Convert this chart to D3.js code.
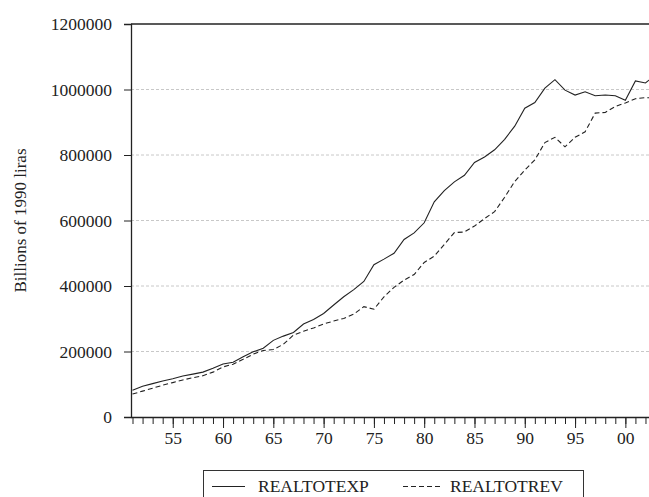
<!DOCTYPE html>
<html>
<head>
<meta charset="utf-8">
<script src="https://cdn.jsdelivr.net/npm/d3@7"></script>
<style>
  html, body { margin: 0; padding: 0; background: #fff; }
  svg { display: block; }
  text { font-family: "Liberation Serif", "Times New Roman", serif; fill: #222; }
</style>
</head>
<body>
<svg id="chart" width="649" height="497"></svg>
<script>
const years = d3.range(1951, 2004);
const realtotexp = [
  82000, 94000, 102000, 110000, 117000, 125000, 131000, 137000, 149000, 162000,
  167000, 184000, 199000, 210000, 234000, 247000, 258000, 284000, 298000, 316000,
  342000, 367000, 389000, 414000, 465000, 482000, 500000, 542000, 562000, 593000,
  657000, 691000, 718000, 738000, 777000, 794000, 816000, 848000, 888000, 943000,
  960000, 1004000, 1030000, 998000, 983000, 993000, 981000, 983000, 981000, 967000,
  1026000, 1020000, 1045000
];
const realtotrev = [
  70000, 79000, 88000, 97000, 105000, 113000, 120000, 126000, 137000, 153000,
  161000, 176000, 192000, 203000, 206000, 222000, 250000, 262000, 272000, 284000,
  293000, 301000, 314000, 337000, 329000, 367000, 396000, 418000, 435000, 472000,
  491000, 527000, 563000, 565000, 583000, 606000, 627000, 671000, 719000, 754000,
  785000, 838000, 854000, 825000, 854000, 871000, 928000, 930000, 948000, 959000,
  972000, 975000, 975000
];
const yTicks = [0, 200000, 400000, 600000, 800000, 1000000, 1200000];
const xMajorTicks = [1955, 1960, 1965, 1970, 1975, 1980, 1985, 1990, 1995, 2000];
const seriesNames = ["REALTOTEXP", "REALTOTREV"];

(function () {
const svg = d3.select("#chart");
const pL = 131, pR = 649, pT = 24, pB = 417;

const x = d3.scaleLinear().domain([1950.85, 2002.35]).range([pL, pR]);
const y = d3.scaleLinear().domain([0, 1200000]).range([pB, pT]);

svg.append("clipPath").attr("id", "clip")
  .append("rect").attr("x", pL).attr("y", pT - 2).attr("width", pR - pL).attr("height", pB - pT + 4);

// gridlines
svg.append("g").selectAll("line")
  .data(yTicks.filter(d => d > 0 && d < 1200000))
  .join("line")
  .attr("x1", pL).attr("x2", pR)
  .attr("y1", d => y(d)).attr("y2", d => y(d))
  .attr("stroke", "#c8c8c8").attr("stroke-width", 1).attr("stroke-dasharray", "3,2");

// top border
svg.append("line").attr("x1", pL).attr("x2", pR).attr("y1", y(1200000)).attr("y2", y(1200000))
  .attr("stroke", "#222").attr("stroke-width", 1.3);

// y axis
const yAxis = d3.axisLeft(y).tickValues(yTicks).tickFormat(d3.format("d")).tickSize(7).tickPadding(12);
const gy = svg.append("g").attr("transform", `translate(${pL},0)`).call(yAxis);
gy.select(".domain").attr("stroke", "#222").attr("stroke-width", 1.3);
gy.selectAll(".tick line").attr("stroke", "#222");
gy.selectAll(".tick text").attr("font-size", "17.5px").attr("font-family", "Liberation Serif").attr("fill", "#222");

// x axis minor ticks
const gxMinor = svg.append("g").attr("transform", `translate(0,${pB})`)
  .call(d3.axisBottom(x).tickValues(d3.range(1951, 2003)).tickSize(7).tickFormat(""));
gxMinor.select(".domain").remove();
gxMinor.selectAll(".tick line").attr("stroke", "#222");

const xAxis = d3.axisBottom(x).tickValues(xMajorTicks)
  .tickFormat(d => String(d % 100).padStart(2, "0")).tickSize(11).tickPadding(4).tickSizeOuter(0);
const gx = svg.append("g").attr("transform", `translate(0,${pB})`).call(xAxis);
gx.select(".domain").attr("stroke", "#222").attr("stroke-width", 1.3);
gx.selectAll(".tick line").attr("stroke", "#222");
gx.selectAll(".tick text").attr("font-size", "17.5px").attr("font-family", "Liberation Serif").attr("fill", "#222");

// y title
svg.append("text")
  .attr("transform", `translate(26,${(pT + pB) / 2}) rotate(-90)`)
  .attr("text-anchor", "middle")
  .attr("font-size", "17px")
  .text("Billions of 1990 liras");

// lines
const line = d3.line().x(d => x(d[0])).y(d => y(d[1]));
const plot = svg.append("g").attr("clip-path", "url(#clip)");
plot.append("path")
  .datum(years.map((yr, i) => [yr, realtotexp[i]]))
  .attr("d", line).attr("fill", "none").attr("stroke", "#222").attr("stroke-width", 1.1);
plot.append("path")
  .datum(years.map((yr, i) => [yr, realtotrev[i]]))
  .attr("d", line).attr("fill", "none").attr("stroke", "#222").attr("stroke-width", 1.1)
  .attr("stroke-dasharray", "5,3");

// legend
const lg = svg.append("g");
lg.append("rect").attr("x", 203.5).attr("y", 470.5).attr("width", 380).attr("height", 40)
  .attr("fill", "none").attr("stroke", "#333").attr("stroke-width", 1);
lg.append("line").attr("x1", 212).attr("x2", 245).attr("y1", 486.5).attr("y2", 486.5)
  .attr("stroke", "#222").attr("stroke-width", 1.1);
lg.append("text").attr("x", 258).attr("y", 492).attr("font-size", "17.5px").text(seriesNames[0]);
lg.append("line").attr("x1", 403).attr("x2", 441).attr("y1", 486.5).attr("y2", 486.5)
  .attr("stroke", "#222").attr("stroke-width", 1.1).attr("stroke-dasharray", "5,3");
lg.append("text").attr("x", 450).attr("y", 492).attr("font-size", "17.5px").text(seriesNames[1]);
})();
</script>
</body>
</html>
